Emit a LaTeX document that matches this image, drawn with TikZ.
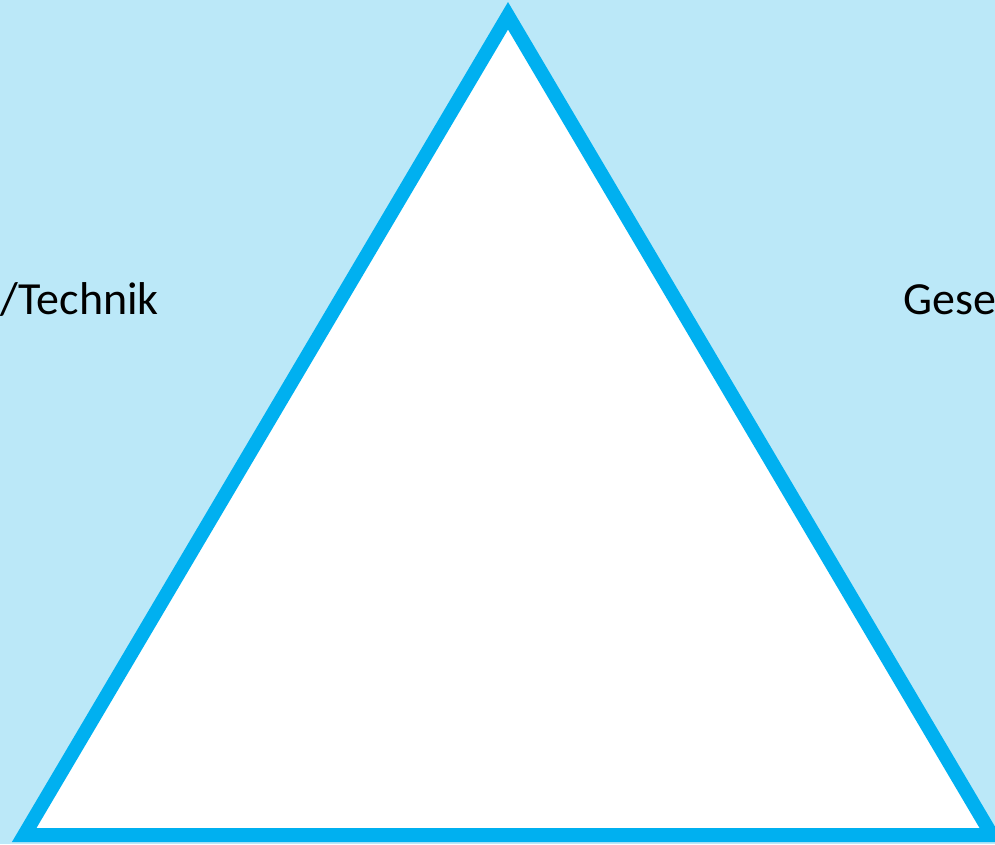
\documentclass[tikz,border=0pt]{standalone}
\usepackage{fontspec}
\setmainfont{Carlito}
\definecolor{bgblue}{RGB}{187,232,248}
\definecolor{edgecyan}{RGB}{0,176,240}
\begin{document}
\begin{tikzpicture}[x=1pt,y=1pt,
  label text/.style={inner sep=0pt,font=\fontsize{46}{52}\selectfont,text=black},
  tri/.style={draw=edgecyan,line width=14pt,line join=miter,miter limit=10,fill=white}]
\useasboundingbox (0,0) rectangle (995,844);
\fill[bgblue] (0,0) rectangle (995,844);
\coordinate (apex) at (508,828.2);
\coordinate (bl) at (24.2,9);
\coordinate (br) at (991.8,9);
\draw[tri] (apex) -- (bl) -- (br) -- cycle;
\node[label text,anchor=base east] (left) at (159,529) {/Technik};
\node[label text,anchor=base west] (right) at (903,529) {Gese};
\end{tikzpicture}
\end{document}
